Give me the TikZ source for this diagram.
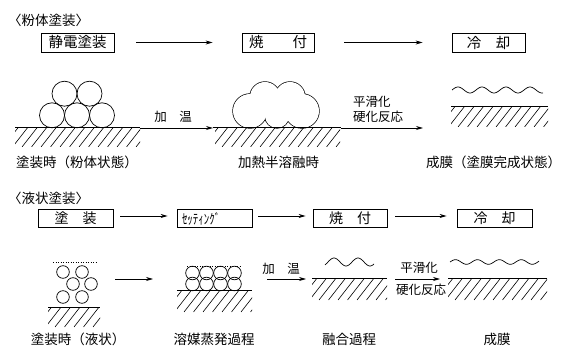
\documentclass[tikz,border=0pt]{standalone}
\usepackage{fontspec}
\setmainfont{Noto Sans CJK JP}
\usetikzlibrary{arrows.meta}

% hatched substrate under a ground line: x1, x2, y, depth
\newcommand\hatchunder[4]{%
  \begin{scope}
    \clip (#1,#3) rectangle (#2,#3+#4);
    \foreach \k in {0,...,16}
      \draw[hatch] (#1-12+\k*9.5,#3+#4) -- ++(0.78*#4,-#4);
  \end{scope}}

\begin{document}
\begin{tikzpicture}[x=1pt,y=-1pt,
  every node/.style={inner sep=0pt},
  box/.style={draw, line width=0.8pt, minimum height=19pt, font=\fontsize{14.5}{16}\selectfont},
  arr/.style={line width=0.7pt, -{Stealth[length=7pt,width=4pt]}},
  garr/.style={line width=0.9pt, -{Stealth[length=7pt,width=4pt]}},
  gline/.style={line width=1pt},
  hatch/.style={line width=0.6pt},
  ball/.style={line width=0.7pt},
  wave/.style={line width=0.7pt},
  head/.style={anchor=west, font=\fontsize{13.5}{16}\selectfont},
  lbl/.style={font=\fontsize{13.5}{16}\selectfont},
  note/.style={font=\fontsize{12.5}{15}\selectfont}]
\useasboundingbox (0,0) rectangle (562,347);

% ---------------- powder coating ----------------
\node[head] (h1) at (8,20) {〈粉体塗装〉};

\node[box, minimum width=73pt] (b11) at (77.5,42.5) {静電塗装};
\node[box, minimum width=72pt] (b12) at (278,42.5) {焼　　付};
\node[box, minimum width=73pt] (b13) at (488.5,42.5) {冷　却};
\draw[arr, shorten <=22pt, shorten >=29pt] (b11) -- (b12);
\draw[arr, shorten <=30pt, shorten >=29pt] (b12) -- (b13);

% powder particles on the substrate
\foreach \cx in {52,77,102}
  \draw[ball] (\cx,115.3) circle[radius=12.5pt];
\foreach \cx in {64.5,89.5}
  \draw[ball] (\cx,93.7) circle[radius=12.5pt];

% half-molten powder: outline of overlapping lobes
\foreach \cx/\cy/\r in {250/111/17, 265/97/15, 290/97/15, 302/111/17, 277/116/12}
  \draw[line width=1.4pt] (\cx,\cy) circle[radius=\r pt];
\foreach \cx/\cy/\r in {250/111/17, 265/97/15, 290/97/15, 302/111/17, 277/116/12}
  \fill[white] (\cx,\cy) circle[radius=\r pt];

\coordinate (g1a) at (15,128);
\coordinate (g1b) at (140,128);
\coordinate (g2a) at (213,128);
\coordinate (g2b) at (341,128);
\coordinate (g2c) at (423,128);
\draw[gline] (g1a) -- (g1b);
\draw[garr] (g1b) -- (g2a);
\draw[gline] (g2a) -- (g2b);
\draw[garr] (g2b) -- (g2c);
\hatchunder{15}{140}{128}{19}
\hatchunder{215}{340}{128}{19}

\node[note] (t11) at (173,117) {加　温};
\node[note, anchor=west] (t12) at (353,102) {平滑化};
\node[note, anchor=west] (t13) at (353,117) {硬化反応};

% finished film
\draw[wave] plot[domain=0:91, samples=120, smooth] ({452+\x},{90-3*sin(15*\x)});
\coordinate (g3a) at (451,107);
\coordinate (g3b) at (548,107);
\draw[gline] (g3a) -- (g3b);
\hatchunder{451}{548}{107}{20}

\node[lbl] (l11) at (77,162) {塗装時（粉体状態）};
\node[lbl] (l12) at (278.5,162) {加熱半溶融時};
\node[lbl] (l13) at (493.5,162) {成膜（塗膜完成状態）};

% ---------------- liquid coating ----------------
\node[head] (h2) at (8,198) {〈液状塗装〉};

\node[box, minimum width=75pt, minimum height=18pt, font=\fontsize{14}{16}\selectfont] (b21) at (75.5,218.5) {塗　装};
\node[box, minimum width=75pt, minimum height=18pt, text width=65pt, align=left, font=\fontsize{14}{16}\selectfont] (b22) at (214.5,218.5) {\scalebox{0.78}[1]{ｾｯﾃｨﾝｸﾞ}};
\node[box, minimum width=74pt, minimum height=18pt, font=\fontsize{14}{16}\selectfont] (b23) at (350,218.5) {焼　付};
\node[box, minimum width=75pt, minimum height=18pt, font=\fontsize{14}{16}\selectfont] (b24) at (494.5,218.5) {冷　却};
\draw[arr, shorten <=7pt, shorten >=9pt] ([yshift=2.5pt]b21.east) -- ([yshift=2.5pt]b22.west);
\draw[arr, shorten <=6pt, shorten >=7pt] ([yshift=2.5pt]b22.east) -- ([yshift=2.5pt]b23.west);
\draw[arr, shorten <=8pt, shorten >=10pt] ([yshift=2.5pt]b23.east) -- ([yshift=2.5pt]b24.west);

% wet film with dispersed particles
\draw[line width=0.6pt, dash pattern=on 1.2pt off 1.3pt] (53,262) -- (97,262);
\foreach \cx/\cy in {63/272, 82/272, 73/284, 91/284, 63/297, 82/297}
  \draw[ball] (\cx,\cy) circle[radius=6.3pt];
\coordinate (g4a) at (48,307);
\coordinate (g4b) at (100,307);
\draw[gline] (g4a) -- (g4b);
\hatchunder{48}{100}{307}{20}

\coordinate (m1) at (115,279);
\coordinate (m2) at (153,279);
\draw[arr] (m1) -- (m2);

% solvent evaporation: packed particles
\draw[line width=0.6pt, dash pattern=on 1.2pt off 1.3pt] (187,266) -- (240,266);
\foreach \cx in {192.5,206.5,220.5,234.5}
  \foreach \cy in {273,284}
    \draw[ball] (\cx,\cy) circle[radius=6.8pt];
\coordinate (g5a) at (177,291);
\coordinate (g5b) at (252,291);
\draw[gline] (g5a) -- (g5b);
\hatchunder{177}{252}{291}{21}

\coordinate (m3) at (267,279);
\coordinate (g6a) at (312,279);
\draw[arr] (m3) -- ([xshift=-6pt]g6a);
\node[note] (t21) at (281,269) {加　温};

% fusion
\draw[wave] plot[domain=0:49, samples=80, smooth] ({325+\x},{262-4*sin(15*\x-45)});
\coordinate (g6b) at (387,279);
\draw[gline] (g6a) -- (g6b);
\hatchunder{312}{387}{279}{21}

\coordinate (m4) at (395,279);
\coordinate (g7a) at (448,279);
\draw[arr] (m4) -- ([xshift=-8pt]g7a);
\node[note] (t22) at (419,268) {平滑化};
\node[note] (t23) at (421,290) {硬化反応};

% film
\draw[wave] plot[domain=0:89, samples=120, smooth] ({450+\x},{262-2.3*sin(16.4*\x)});
\coordinate (g7b) at (547,279);
\draw[gline] (g7a) -- (g7b);
\hatchunder{448}{547}{279}{21}

\node[lbl] (l21) at (78,339) {塗装時（液状）};
\node[lbl] (l22) at (214,339) {溶媒蒸発過程};
\node[lbl] (l23) at (349,339) {融合過程};
\node[lbl] (l24) at (497,339) {成膜};
\end{tikzpicture}
\end{document}
